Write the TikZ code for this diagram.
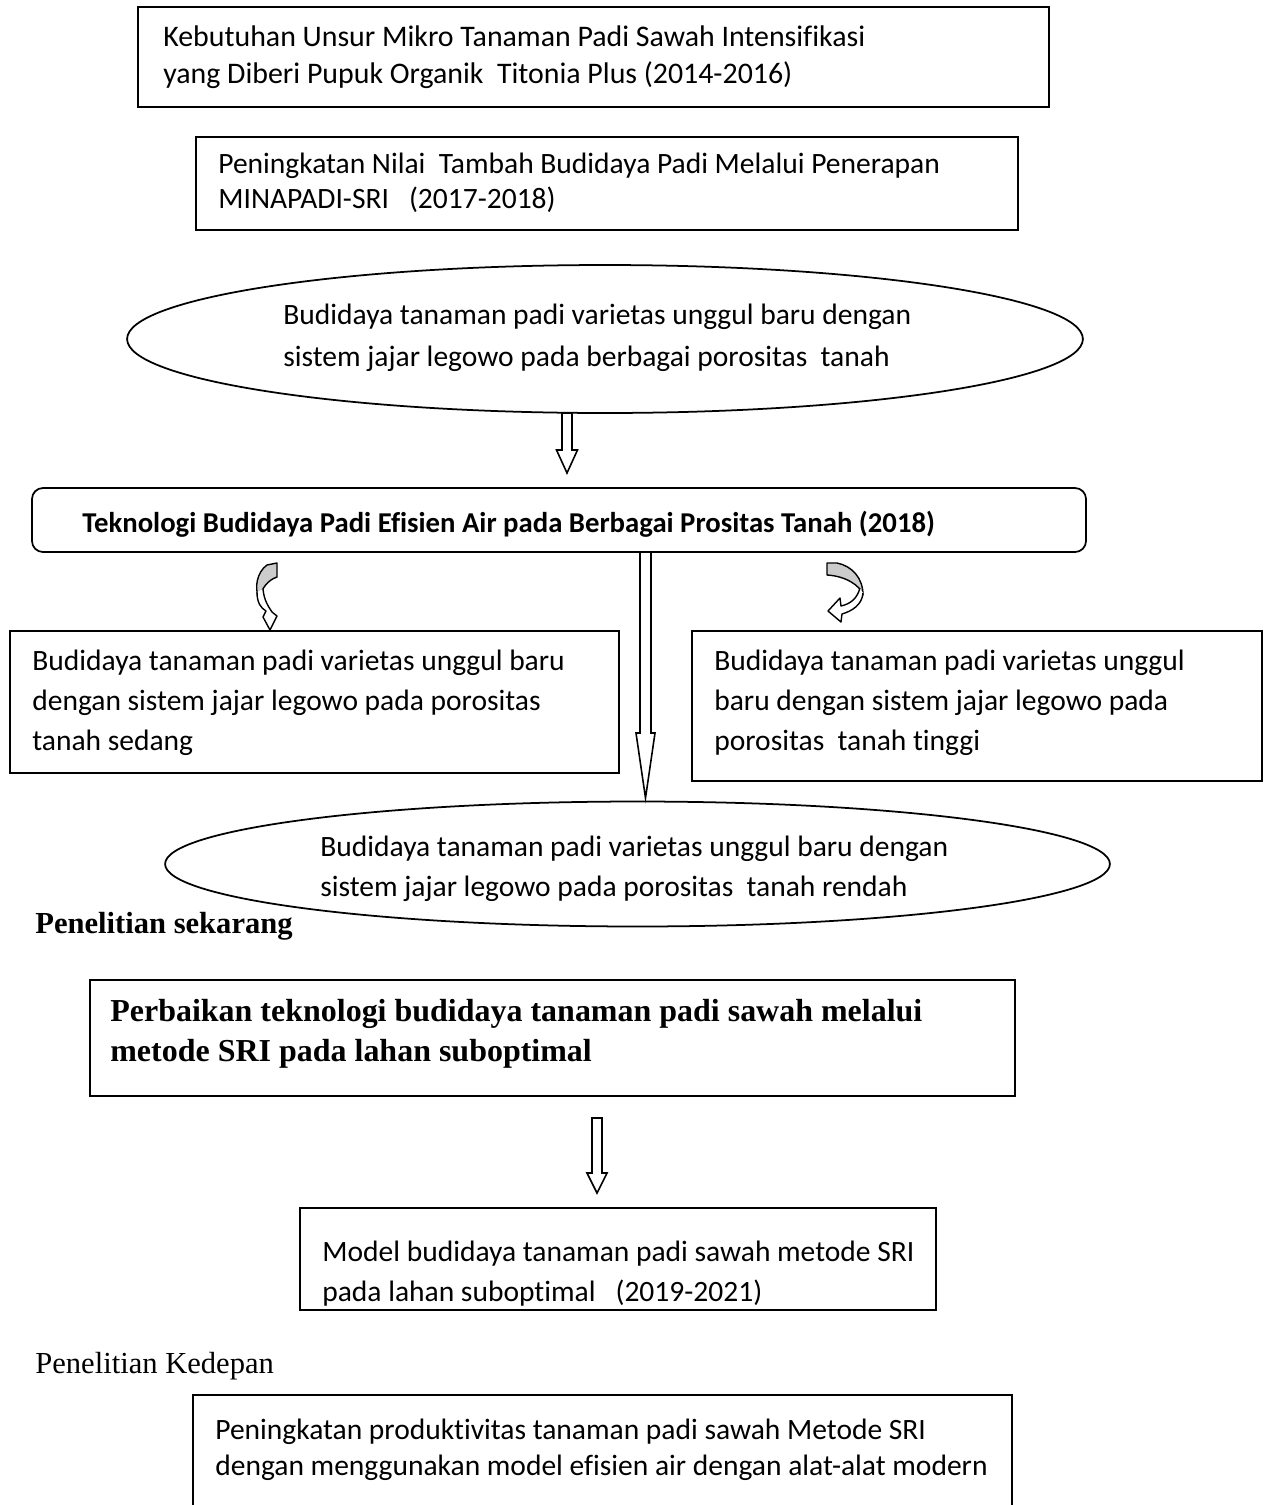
\documentclass[tikz,border=0pt]{standalone}
\usepackage{fontspec}
\setmainfont{Carlito}[Ligatures=CommonOff]
\newfontfamily\tnr{Liberation Serif}[Ligatures=CommonOff]
\usetikzlibrary{shapes.geometric,fit}
\newcommand\blockarr[6]{% x, ytop, yhead, ytip, shaft half width, head half width
  \filldraw[fill=white, line width=0.9pt, line join=miter]
    ({#1-#5},#2) -- ({#1-#5},#3) -- ({#1-#6},#3) -- (#1,#4) -- ({#1+#6},#3)
    -- ({#1+#5},#3) -- ({#1+#5},#2) -- cycle;}
\begin{document}
\begin{tikzpicture}[x=0.02cm,y=-0.02cm,
  box/.style={draw, line width=1pt, inner sep=0pt, rectangle},
  oval/.style={draw, line width=1pt, ellipse, inner sep=0pt},
  txt/.style={anchor=west, inner sep=0pt, align=left},
  curv/.style={line width=0.8pt, line join=round}]
\useasboundingbox (0,0) rectangle (1272,1505);

% boxes
\node[box, fit={(138,7) (1049,107)}] (b1) {};
\node[txt, font=\fontsize{17}{21}\selectfont] (t1) at (163,57.5)
  {Kebutuhan Unsur Mikro Tanaman Padi Sawah Intensifikasi\\yang Diberi Pupuk Organik\ \ Titonia Plus (2014-2016)};

\node[box, fit={(196,137) (1018,230)}] (b2) {};
\node[txt, font=\fontsize{16.8}{20}\selectfont] (t2) at (218,183)
  {Peningkatan Nilai\ \ Tambah Budidaya Padi Melalui Penerapan\\MINAPADI-SRI\ \ \ (2017-2018)};

\node[oval, minimum width=19.12cm, minimum height=2.96cm] (e1) at (605,339) {};
\node[txt, font=\fontsize{16.8}{24}\selectfont] (te1) at (283,338)
  {Budidaya tanaman padi varietas unggul baru dengan\\sistem jajar legowo pada berbagai porositas\ \ tanah};

\node[box, rounded corners=0.22cm, fit={(32,488) (1086,552)}] (rb) {};
\node[txt, font=\fontsize{16.35}{20}\selectfont\bfseries] (trb) at (82,524)
  {Teknologi Budidaya Padi Efisien Air pada Berbagai Prositas Tanah (2018)};

\node[box, fit={(10,631) (619,773)}] (bl) {};
\node[txt, font=\fontsize{16.8}{22.8}\selectfont] (tbl) at (32,703)
  {Budidaya tanaman padi varietas unggul baru\\dengan sistem jajar legowo pada porositas\\tanah sedang};

\node[box, fit={(692,631) (1262,781)}] (br) {};
\node[txt, font=\fontsize{16.8}{22.8}\selectfont] (tbr) at (714,703)
  {Budidaya tanaman padi varietas unggul\\baru dengan sistem jajar legowo pada\\porositas\ \ tanah tinggi};

\node[oval, minimum width=18.9cm, minimum height=2.5cm] (e2) at (637.5,864) {};
\node[txt, font=\fontsize{16.8}{22.8}\selectfont] (te2) at (320,869)
  {Budidaya tanaman padi varietas unggul baru dengan\\sistem jajar legowo pada porositas\ \ tanah rendah};

\node[txt, font=\tnr\fontsize{17.4}{20}\selectfont\bfseries] (ps) at (35,926) {Penelitian sekarang};

\node[box, fit={(90,980) (1015,1096)}] (bb) {};
\node[txt, font=\tnr\fontsize{18.2}{22.8}\selectfont\bfseries] (tbb) at (110,1034)
  {Perbaikan teknologi budidaya tanaman padi sawah melalui\\metode SRI pada lahan suboptimal};

\node[box, fit={(300,1208) (936,1310)}] (b4) {};
\node[txt, font=\fontsize{16.8}{22.8}\selectfont] (t4) at (322,1274)
  {Model budidaya tanaman padi sawah metode SRI\\pada lahan suboptimal\ \ \ (2019-2021)};

\node[txt, font=\tnr\fontsize{17.4}{20}\selectfont] (pk) at (35,1366) {Penelitian Kedepan};

\coordinate (b5sw) at (193,1505);
\coordinate (b5ne) at (1012,1395);
\draw[line width=1pt] (b5sw) |- (b5ne) -- (b5ne |- b5sw);
\node[txt, font=\fontsize{16.8}{20.5}\selectfont] (t5) at (215,1450)
  {Peningkatan produktivitas tanaman padi sawah Metode SRI\\dengan menggunakan model efisien air dengan alat-alat modern};

% block arrows
\blockarr{567}{413}{450}{473}{5}{10.5}
\blockarr{645.5}{552}{733}{798}{5.5}{9.5}
\blockarr{597}{1118}{1173}{1193}{5}{10}

% left curved arrow
\filldraw[curv, fill=gray!40] (267,565) -- (277,563) -- (277,577)
  .. controls (268,580) and (262,588) .. (259,598)
  .. controls (254,588) and (257,572) .. cycle;
\filldraw[curv, fill=white] (257,592) .. controls (257,603) and (261,608) .. (266,611)
  -- (263,617) -- (270,630) -- (277,616) -- (272,612)
  .. controls (268,606) and (264,600) .. (263,589);

% right curved arrow
\filldraw[curv, fill=gray!40] (827,563) -- (837,563)
  .. controls (852,566) and (863,578) .. (863,595)
  .. controls (860,585) and (845,576) .. (827,575) -- cycle;
\filldraw[curv, fill=white] (863,593) .. controls (862,605) and (852,611) .. (842,614)
  -- (841,622) -- (828,611) -- (840,598) -- (841,606)
  .. controls (850,604) and (857,599) .. (860,588);
\end{tikzpicture}
\end{document}
